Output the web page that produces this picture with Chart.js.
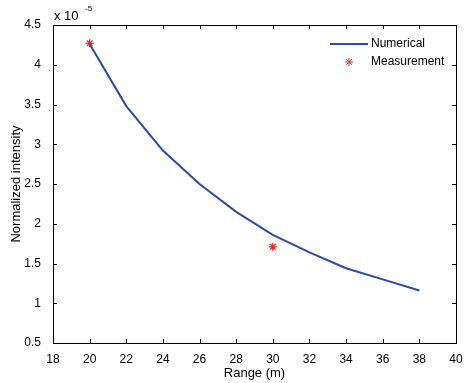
<!DOCTYPE html>
<html>
<head>
<meta charset="utf-8">
<script src="https://cdn.jsdelivr.net/npm/chart.js@4.4.0/dist/chart.umd.min.js"></script>
<style>
html, body { margin: 0; padding: 0; background: #fff; }
#wrap { width: 466px; height: 383px; }
</style>
</head>
<body>
<div id="wrap"><canvas id="chart" width="466" height="383"></canvas></div>
<script>
// Data (intensity in units of 1e-5)
const ranges = [20, 22, 24, 26, 28, 30, 32, 34, 36, 38];
const numerical = [4.26, 3.48, 2.92, 2.50, 2.15, 1.86, 1.64, 1.44, 1.30, 1.16];
const measRanges = [20, 30];
const measured = [4.27, 1.71];
const xTicks = [18, 20, 22, 24, 26, 28, 30, 32, 34, 36, 38, 40];
const yTicks = [0.5, 1, 1.5, 2, 2.5, 3, 3.5, 4, 4.5];

const FONT = "'Liberation Sans', Arial, Helvetica, sans-serif";
const blue = '#2a4aa8';
const red = '#ff2020';

// Box, inward ticks, exponent label and legend (MATLAB look)
const matlabBox = {
    id: 'matlabBox',
    afterDraw(chart) {
        const ctx = chart.ctx;
        const a = chart.chartArea;
        const xs = chart.scales.x;
        const ys = chart.scales.y;
        ctx.save();
        ctx.strokeStyle = '#000';
        ctx.lineWidth = 1;
        ctx.strokeRect(a.left + 0.5, a.top + 0.5, a.right - a.left, a.bottom - a.top);
        ctx.beginPath();
        xTicks.forEach(v => {
            const px = Math.round(xs.getPixelForValue(v)) + 0.5;
            ctx.moveTo(px, a.bottom); ctx.lineTo(px, a.bottom - 4);
            ctx.moveTo(px, a.top); ctx.lineTo(px, a.top + 4);
        });
        yTicks.forEach(v => {
            const py = Math.round(ys.getPixelForValue(v)) + 0.5;
            ctx.moveTo(a.left, py); ctx.lineTo(a.left + 4, py);
            ctx.moveTo(a.right, py); ctx.lineTo(a.right - 4, py);
        });
        ctx.stroke();

        // exponent
        ctx.fillStyle = '#000';
        ctx.textBaseline = 'alphabetic';
        ctx.textAlign = 'left';
        ctx.font = '13px ' + FONT;
        ctx.fillText('x 10', a.left + 1, a.top - 5);
        ctx.font = '8px ' + FONT;
        ctx.fillText('-5', a.left + 32, a.top - 14);

        // legend
        ctx.font = '12px ' + FONT;
        ctx.textBaseline = 'middle';
        ctx.strokeStyle = blue;
        ctx.lineWidth = 2;
        ctx.beginPath();
        ctx.moveTo(330, 44); ctx.lineTo(368, 44);
        ctx.stroke();
        ctx.fillStyle = '#000';
        ctx.fillText('Numerical', 371, 44);
        ctx.fillText('Measurement', 371, 62);
        ctx.strokeStyle = red;
        ctx.lineWidth = 1;
        ctx.beginPath();
        const cx = 349, cy = 62, r = 4;
        ctx.moveTo(cx - r, cy); ctx.lineTo(cx + r, cy);
        ctx.moveTo(cx, cy - r); ctx.lineTo(cx, cy + r);
        ctx.moveTo(cx - r * 0.7, cy - r * 0.7); ctx.lineTo(cx + r * 0.7, cy + r * 0.7);
        ctx.moveTo(cx - r * 0.7, cy + r * 0.7); ctx.lineTo(cx + r * 0.7, cy - r * 0.7);
        ctx.stroke();
        ctx.restore();
    }
};

new Chart(document.getElementById('chart'), {
    type: 'line',
    data: {
        datasets: [
            {
                label: 'Numerical',
                data: ranges.map((x, i) => ({ x: x, y: numerical[i] })),
                borderColor: blue,
                borderWidth: 2,
                pointRadius: 0,
                tension: 0,
                fill: false
            },
            {
                label: 'Measurement',
                data: measRanges.map((x, i) => ({ x: x, y: measured[i] })),
                showLine: false,
                pointStyle: 'star',
                pointRadius: 4,
                borderColor: red,
                backgroundColor: red,
                borderWidth: 1.2
            }
        ]
    },
    options: {
        responsive: false,
        animation: false,
        layout: { padding: { top: 25, right: 10, left: 0, bottom: 0 } },
        plugins: {
            legend: { display: false },
            tooltip: { enabled: false }
        },
        scales: {
            x: {
                type: 'linear',
                min: 18,
                max: 40,
                afterBuildTicks: s => { s.ticks = xTicks.map(v => ({ value: v })); },
                afterFit: s => { s.height = 40; },
                grid: { display: false },
                border: { display: false },
                ticks: {
                    color: '#000',
                    font: { family: FONT, size: 12 },
                    padding: 1,
                    maxRotation: 0,
                    callback: v => String(v)
                },
                title: {
                    display: true,
                    text: 'Range (m)',
                    color: '#000',
                    font: { family: FONT, size: 13 },
                    padding: { top: 0, bottom: 2 }
                }
            },
            y: {
                type: 'linear',
                min: 0.5,
                max: 4.5,
                afterBuildTicks: s => { s.ticks = yTicks.map(v => ({ value: v })); },
                afterFit: s => { s.width = 53; },
                grid: { display: false },
                border: { display: false },
                ticks: {
                    color: '#000',
                    font: { family: FONT, size: 12 },
                    padding: 4,
                    callback: v => String(v)
                },
                title: {
                    display: true,
                    text: 'Normalized intensity',
                    color: '#000',
                    font: { family: FONT, size: 13 },
                    padding: { top: 9, bottom: 0 }
                }
            }
        }
    },
    plugins: [matlabBox]
});
</script>
</body>
</html>
